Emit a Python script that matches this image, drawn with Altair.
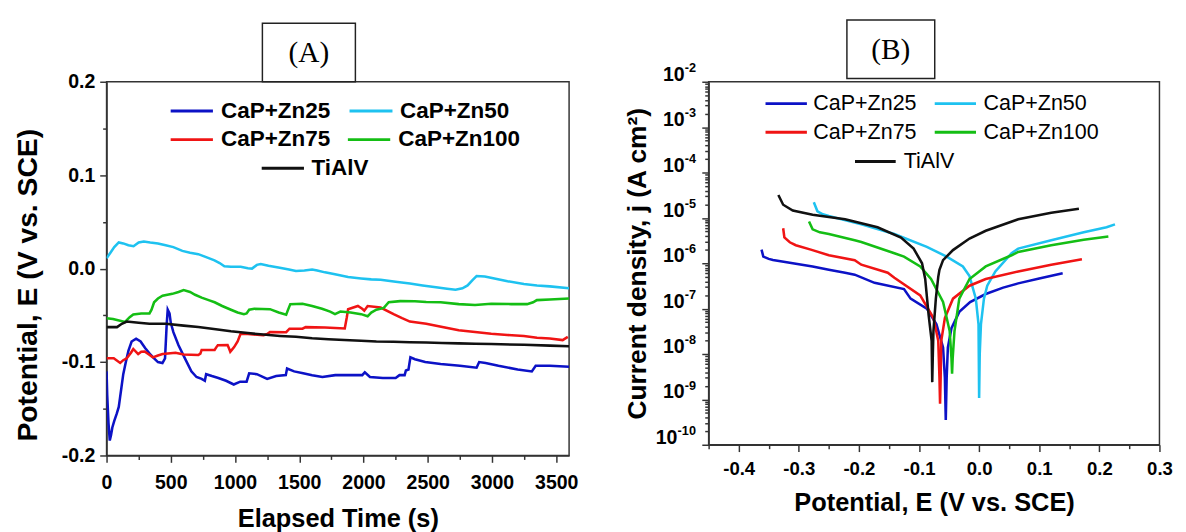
import altair as alt
import pandas as pd

SERIES = ["CaP+Zn25", "CaP+Zn50", "CaP+Zn75", "CaP+Zn100", "TiAlV"]
COLORS = ["#0c12c6", "#1ec2f0", "#f01414", "#14be14", "#111111"]

# ---------------- Panel A: open-circuit potential vs time ----------------
a_zn25_t = [0, 5, 15, 25, 35, 45, 60, 80, 95, 105, 115, 130, 150, 170, 195, 230, 265, 300, 335, 370,
            400, 435, 455, 468, 476, 490, 500, 520, 560, 610, 660, 700, 740, 765, 775, 820, 870, 930,
            990, 1040, 1090, 1110, 1170, 1250, 1320, 1395, 1405, 1460, 1530, 1600, 1680, 1780, 1900,
            1990, 2010, 2050, 2150, 2250, 2280, 2320, 2330, 2350, 2365, 2400, 2480, 2600, 2750, 2880,
            2900, 2950, 3050, 3200, 3310, 3340, 3450, 3600]
a_zn25_E = [-0.110, -0.135, -0.165, -0.184, -0.178, -0.170, -0.163, -0.155, -0.148, -0.138, -0.128,
            -0.113, -0.100, -0.088, -0.078, -0.075, -0.078, -0.085, -0.091, -0.096, -0.100, -0.101,
            -0.096, -0.060, -0.044, -0.048, -0.058, -0.068, -0.082, -0.096, -0.110, -0.116, -0.118,
            -0.120, -0.113, -0.115, -0.117, -0.120, -0.124, -0.121, -0.121, -0.112, -0.113, -0.118,
            -0.115, -0.114, -0.107, -0.110, -0.112, -0.114, -0.116, -0.114, -0.114, -0.114, -0.111,
            -0.116, -0.117, -0.117, -0.114, -0.114, -0.109, -0.108, -0.095, -0.097, -0.100, -0.102,
            -0.104, -0.106, -0.100, -0.101, -0.104, -0.108, -0.110, -0.104, -0.104, -0.105]

a_zn50_t = [0, 30, 60, 95, 130, 170, 210, 250, 290, 340, 400, 460, 520, 590, 650, 714, 780, 840, 880,
            917, 968, 1044, 1100, 1132, 1170, 1200, 1260, 1348, 1420, 1474, 1540, 1600, 1640, 1700,
            1778, 1880, 1981, 2060, 2133, 2250, 2361, 2460, 2564, 2650, 2716, 2770, 2810, 2850, 2880,
            2944, 3000, 3121, 3248, 3350, 3450, 3600]
a_zn50_E = [0.011, 0.017, 0.023, 0.028, 0.027, 0.025, 0.024, 0.028, 0.029, 0.028, 0.027, 0.025,
            0.023, 0.019, 0.017, 0.0155, 0.012, 0.0088, 0.006, 0.0025, 0.002, 0.002, 0.0005, 0.0,
            0.004, 0.005, 0.003, 0.001, -0.001, -0.0025, -0.002, -0.001, -0.002, -0.004, -0.006,
            -0.009, -0.0105, -0.0115, -0.012, -0.014, -0.016, -0.018, -0.020, -0.0215, -0.0225,
            -0.021, -0.018, -0.012, -0.008, -0.0085, -0.010, -0.0135, -0.0165, -0.018, -0.019, -0.021]

a_zn75_t = [0, 56, 106, 130, 157, 190, 208, 246, 270, 296, 330, 360, 400, 436, 537, 600, 714, 730,
            740, 841, 855, 866, 942, 955, 963, 975, 993, 1020, 1044, 1100, 1221, 1250, 1272, 1398,
            1424, 1525, 1550, 1700, 1854, 1870, 1880, 1956, 1990, 2006, 2032, 2133, 2234, 2300, 2361,
            2488, 2614, 2741, 2868, 2994, 3120, 3248, 3350, 3450, 3550, 3590]
a_zn75_E = [-0.096, -0.096, -0.101, -0.098, -0.096, -0.090, -0.086, -0.0915, -0.089, -0.0887,
            -0.092, -0.095, -0.093, -0.0915, -0.090, -0.092, -0.0925, -0.091, -0.087, -0.087,
            -0.084, -0.082, -0.0817, -0.086, -0.089, -0.087, -0.084, -0.078, -0.0696, -0.070,
            -0.0713, -0.070, -0.0678, -0.068, -0.0643, -0.0643, -0.0626, -0.063, -0.064, -0.052,
            -0.0434, -0.040, -0.043, -0.045, -0.040, -0.0417, -0.0487, -0.053, -0.0567, -0.059,
            -0.0626, -0.066, -0.0678, -0.0696, -0.071, -0.072, -0.074, -0.0748, -0.0765, -0.073]

a_zn100_t = [0, 50, 81, 144, 180, 208, 270, 334, 350, 370, 400, 436, 512, 560, 600, 650, 689, 740,
             800, 841, 900, 968, 1020, 1069, 1090, 1110, 1150, 1272, 1340, 1398, 1410, 1430, 1525,
             1600, 1677, 1740, 1778, 1820, 1900, 1981, 2032, 2060, 2100, 2158, 2196, 2285, 2400,
             2488, 2600, 2741, 2868, 2994, 3150, 3273, 3320, 3349, 3450, 3600]
a_zn100_E = [-0.053, -0.054, -0.055, -0.057, -0.052, -0.049, -0.048, -0.048, -0.044, -0.036,
             -0.032, -0.029, -0.027, -0.025, -0.023, -0.025, -0.028, -0.031, -0.034, -0.036,
             -0.040, -0.044, -0.047, -0.0487, -0.048, -0.044, -0.043, -0.0434, -0.047, -0.0494,
             -0.045, -0.038, -0.0376, -0.040, -0.043, -0.046, -0.0487, -0.046, -0.047, -0.0487,
             -0.051, -0.047, -0.044, -0.042, -0.036, -0.0348, -0.035, -0.0358, -0.036, -0.038,
             -0.039, -0.0376, -0.038, -0.038, -0.036, -0.0337, -0.033, -0.032]

a_tialv_t = [0, 81, 119, 157, 250, 334, 461, 600, 714, 850, 968, 1100, 1221, 1350, 1474, 1600, 1727,
             1850, 1981, 2100, 2234, 2360, 2488, 2610, 2741, 2868, 2994, 3250, 3450, 3600]
a_tialv_E = [-0.0626, -0.0626, -0.059, -0.0567, -0.058, -0.059, -0.059, -0.061, -0.0626, -0.065,
             -0.0671, -0.069, -0.0706, -0.072, -0.073, -0.0745, -0.0755, -0.0765, -0.0772, -0.078,
             -0.0783, -0.0787, -0.079, -0.0795, -0.080, -0.0803, -0.0807, -0.0815, -0.0824, -0.083]

# ---------------- Panel B: polarization curves ----------------
b_zn25_E = [-0.362, -0.359, -0.350, -0.343, -0.310, -0.277, -0.250, -0.223, -0.207, -0.174, -0.125,
            -0.114, -0.087, -0.071, -0.060, -0.057, -0.0555, -0.054, -0.052, -0.046, -0.033, -0.015,
            0.011, 0.040, 0.065, 0.100, 0.139]
b_zn25_j = [2.0e-6, 1.4e-6, 1.25e-6, 1.18e-6, 1.0e-6, 8.5e-7, 7.2e-7, 6.2e-7, 5.6e-7, 3.7e-7, 2.7e-7,
            1.66e-7, 1.0e-7, 4.5e-8, 1.4e-8, 3e-9, 3.5e-10, 3e-9, 1.4e-8, 3.7e-8, 8.5e-8, 1.4e-7,
            2.1e-7, 2.9e-7, 3.6e-7, 4.6e-7, 6.0e-7]

b_zn50_E = [-0.275, -0.269, -0.260, -0.250, -0.196, -0.141, -0.087, -0.054, -0.027, -0.016, -0.0055,
            -0.001, 0.0, 0.001, 0.003, 0.008, 0.0135, 0.027, 0.054, 0.065, 0.120, 0.174, 0.212, 0.226]
b_zn50_j = [2.2e-5, 1.4e-5, 1.2e-5, 1.1e-5, 7.2e-6, 4.4e-6, 2.3e-6, 1.4e-6, 8.5e-7, 5.2e-7, 1.66e-7,
            4.5e-8, 1.07e-9, 1.0e-8, 4.5e-8, 1.66e-7, 3.2e-7, 6.6e-7, 1.66e-6, 2.1e-6, 3.2e-6, 4.8e-6,
            6.2e-6, 7.2e-6]

b_zn75_E = [-0.326, -0.324, -0.315, -0.305, -0.280, -0.250, -0.207, -0.196, -0.152, -0.141, -0.098,
            -0.076, -0.068, -0.066, -0.065, -0.064, -0.063, -0.057, -0.0435, -0.016, 0.011, 0.065,
            0.120, 0.171]
b_zn75_j = [5.9e-6, 3.7e-6, 2.9e-6, 2.5e-6, 2.0e-6, 1.5e-6, 1.17e-6, 9.3e-7, 6.2e-7, 4.8e-7, 1.95e-7,
            6.2e-8, 1.95e-8, 3e-9, 8e-10, 3e-9, 1.95e-8, 6.2e-8, 1.66e-7, 3.2e-7, 4.5e-7, 6.6e-7,
            9.3e-7, 1.23e-6]

b_zn100_E = [-0.283, -0.277, -0.265, -0.250, -0.207, -0.196, -0.141, -0.125, -0.098, -0.080, -0.060,
             -0.049, -0.046, -0.045, -0.044, -0.041, -0.033, -0.016, 0.011, 0.054, 0.065, 0.120,
             0.174, 0.215]
b_zn100_j = [8.3e-6, 5.6e-6, 4.8e-6, 4.4e-6, 3.2e-6, 2.95e-6, 1.66e-6, 1.4e-6, 8.5e-7, 4.5e-7, 1.4e-7,
             3.2e-8, 8e-9, 3.7e-9, 8e-9, 3.2e-8, 1.66e-7, 4.5e-7, 8.5e-7, 1.5e-6, 1.78e-6, 2.5e-6,
             3.3e-6, 3.9e-6]

b_tialv_E = [-0.334, -0.326, -0.310, -0.277, -0.223, -0.169, -0.130, -0.109, -0.095, -0.0897, -0.084,
             -0.079, -0.078, -0.077, -0.076, -0.072, -0.068, -0.066, -0.060, -0.0435, -0.016, 0.011,
             0.065, 0.120, 0.166]
b_tialv_j = [3.2e-5, 1.95e-5, 1.45e-5, 1.17e-5, 9.3e-6, 6.2e-6, 3.7e-6, 2.1e-6, 1.0e-6, 4.5e-7, 7.2e-8,
             1.95e-8, 2.4e-9, 1.0e-8, 3.2e-8, 1.66e-7, 5.0e-7, 7.2e-7, 1.17e-6, 1.95e-6, 3.5e-6, 5.2e-6,
             9.3e-6, 1.29e-5, 1.58e-5]

# tick values / labels
a_x_ticks = [0, 250, 500, 750, 1000, 1250, 1500, 1750, 2000, 2250, 2500, 2750, 3000, 3250, 3500]
a_y_ticks = [-0.2, -0.15, -0.1, -0.05, 0.0, 0.05, 0.1, 0.15, 0.2]
b_x_ticks = [-0.45, -0.4, -0.35, -0.3, -0.25, -0.2, -0.15, -0.1, -0.05, 0.0, 0.05, 0.1, 0.15, 0.2, 0.25, 0.3]
b_y_dec_vals = [1e-2, 1e-3, 1e-4, 1e-5, 1e-6, 1e-7, 1e-8, 1e-9, 1e-10]
b_y_dec_exps = ["-2", "-3", "-4", "-5", "-6", "-7", "-8", "-9", "-10"]
b_y_ticks = [m * d for d in b_y_dec_vals[1:] for m in range(1, 10)] + [1e-2]

FONT = "Liberation Sans"
AXC = "#333333"


def long_df(pairs, xn, yn):
    rows = []
    for name, (xs, ys) in zip(SERIES, pairs):
        for i, (x, y) in enumerate(zip(xs, ys)):
            rows.append({"series": name, xn: x, yn: y, "idx": i})
    return pd.DataFrame(rows)


dfA = long_df([(a_zn25_t, a_zn25_E), (a_zn50_t, a_zn50_E), (a_zn75_t, a_zn75_E),
               (a_zn100_t, a_zn100_E), (a_tialv_t, a_tialv_E)], "t", "E")
dfB = long_df([(b_zn25_E, b_zn25_j), (b_zn50_E, b_zn50_j), (b_zn75_E, b_zn75_j),
               (b_zn100_E, b_zn100_j), (b_tialv_E, b_tialv_j)], "E", "j")

color_enc = alt.Color("series:N", scale=alt.Scale(domain=SERIES, range=COLORS), legend=None)


def legend_layers(layout, fs, weight):
    layers = []
    for name, color, (x1, x2, y, tx) in zip(SERIES, COLORS, layout):
        base = alt.Chart(pd.DataFrame({"label": [name]}))
        layers.append(base.mark_rule(color=color, strokeWidth=3).encode(
            x=alt.value(x1), x2=alt.value(x2), y=alt.value(y)))
        layers.append(base.mark_text(align="left", baseline="middle", font=FONT, fontSize=fs,
                                     fontWeight=weight, color="black").encode(
            x=alt.value(tx), y=alt.value(y), text="label:N"))
    return layers


def box_layers(label, x1, x2, y1, y2):
    base = alt.Chart(pd.DataFrame({"lab": [label]}))
    rect = base.mark_rect(fill="white", stroke="#222222", strokeWidth=1.5).encode(
        x=alt.value(x1), x2=alt.value(x2), y=alt.value(y1), y2=alt.value(y2))
    txt = base.mark_text(font="Liberation Serif", fontSize=30, baseline="middle", align="center",
                         color="black").encode(
        x=alt.value((x1 + x2) / 2), y=alt.value((y1 + y2) / 2 + 1), text="lab:N")
    return [rect, txt]


# ---------- Panel A ----------
xA = alt.X("t:Q", scale=alt.Scale(domain=[0, 3600], nice=False, zero=False),
           axis=alt.Axis(values=a_x_ticks, format="d",
                         labelExpr="datum.value % 500 === 0 ? datum.label : ''",
                         tickSize={"condition": {"test": "datum.value % 500 === 0", "value": 7}, "value": 4},
                         labelFontSize=20, labelPadding=11,
                         title="Elapsed Time (s)", titleFontSize=26, titlePadding=14))
yA = alt.Y("E:Q", scale=alt.Scale(domain=[-0.2, 0.2], nice=False, zero=False),
           axis=alt.Axis(values=a_y_ticks,
                         labelExpr="abs(datum.value*10 - round(datum.value*10)) < 0.001 ? "
                                   "((datum.value < -0.001 ? '-' : '') + format(abs(datum.value), '.1f')) : ''",
                         tickSize={"condition": {"test": "abs(datum.value*10 - round(datum.value*10)) < 0.001",
                                                 "value": 7}, "value": 4},
                         labelFontSize=20, labelPadding=5,
                         title="Potential, E (V vs. SCE)", titleFontSize=29, titlePadding=19,
                         titleY=208))

linesA = alt.Chart(dfA).mark_line(strokeWidth=2.6, clip=True).encode(
    x=xA, y=yA, color=color_enc, order="idx:Q")

spacerA = alt.Chart(pd.DataFrame({"s": [0]})).mark_rule(color="white", strokeWidth=1).encode(
    x=alt.value(0), x2=alt.value(1), y=alt.value(-67))

legA = legend_layers([(65.7, 109, 30, 117.3), (249, 293, 30, 300.7), (65.7, 109, 59.3, 117.3),
                      (247.3, 290.7, 59.3, 299), (159, 202.3, 88.6, 210)], 23, "bold")

chartA = alt.layer(spacerA, linesA, *legA, *box_layers("(A)", 159.7, 255, -60, 0)).properties(
    width=474, height=383)

# ---------- Panel B ----------
xB = alt.X("E:Q", scale=alt.Scale(domain=[-0.45, 0.3], nice=False, zero=False),
           axis=alt.Axis(values=b_x_ticks,
                         labelExpr="abs(datum.value*10 - round(datum.value*10)) < 0.001 ? "
                                   "((datum.value < -0.001 ? '-' : '') + format(abs(datum.value), '.1f')) : ''",
                         tickSize={"condition": {"test": "abs(datum.value*10 - round(datum.value*10)) < 0.001",
                                                 "value": 7}, "value": 4},
                         labelFontSize=19, labelPadding=8,
                         title="Potential, E (V vs. SCE)", titleFontSize=26, titlePadding=12))
yB = alt.Y("j:Q", scale=alt.Scale(type="log", domain=[1e-10, 1e-2], nice=False),
           axis=alt.Axis(values=b_y_ticks, labels=False,
                         tickSize={"condition": {"test": "abs(log(datum.value)/LN10 - round(log(datum.value)/LN10)) < 0.01",
                                                 "value": 7}, "value": 4},
                         title="Current density, j (A cm²)", titleFontSize=27, titlePadding=51))

linesB = alt.Chart(dfB).mark_line(strokeWidth=2.6, clip=True).encode(
    x=xB, y=yB, color=color_enc, order="idx:Q")

dec_df = pd.DataFrame({"j": b_y_dec_vals, "ex": b_y_dec_exps, "base": ["10"] * len(b_y_dec_vals)})
dec_base = alt.Chart(dec_df)
ten1 = dec_base.transform_filter("length(datum.ex) < 3").mark_text(
    align="right", baseline="alphabetic", font=FONT, fontSize=20, fontWeight="bold", color="black", dy=-1).encode(
    x=alt.value(-24.5), y=yB, text="base:N")
ten2 = dec_base.transform_filter("length(datum.ex) >= 3").mark_text(
    align="right", baseline="alphabetic", font=FONT, fontSize=20, fontWeight="bold", color="black", dy=-1).encode(
    x=alt.value(-32), y=yB, text="base:N")
expo = dec_base.mark_text(
    align="right", baseline="alphabetic", font=FONT, fontSize=13, fontWeight="bold", color="black", dy=-10).encode(
    x=alt.value(-13), y=yB, text="ex:N")

legB = legend_layers([(58.3, 100.7, 22.4, 107.3), (231.7, 274, 22.4, 281.7), (58.3, 100.7, 51.7, 107.3),
                      (231.7, 274, 51.7, 281.7), (150, 191.7, 81.7, 200)], 22, "normal")

chartB = alt.layer(linesB, ten1, ten2, expo, *legB, *box_layers("(B)", 141.7, 231.7, -63.3, -3.3)).properties(
    width=462, height=372)

chart = alt.hconcat(chartA, chartB, spacing=45).properties(
    padding={"left": 5, "top": 0, "right": 5, "bottom": 0}
).configure_view(stroke=AXC, strokeWidth=1.5).configure_axis(
    grid=False, domainColor=AXC, domainWidth=1.5, tickColor=AXC, tickWidth=1.5,
    labelColor="black", titleColor="black", labelFont=FONT, titleFont=FONT,
    labelFontWeight="bold", titleFontWeight="bold", labelOverlap=False, labelFlush=False
)

chart.save("out.html", embed_options={"renderer": "svg", "actions": False})
